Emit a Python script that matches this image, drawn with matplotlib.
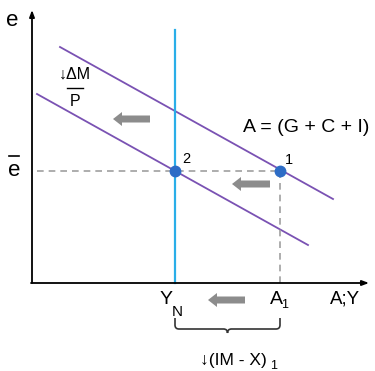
import matplotlib
matplotlib.use("Agg")
import matplotlib.pyplot as plt
from matplotlib.patches import FancyArrow
from matplotlib.path import Path
from matplotlib.patches import PathPatch

plt.rcParams['font.family'] = ['Liberation Sans', 'DejaVu Sans']

# Schematic values (arbitrary units)
YN = 143
A1 = 248
EBAR = 112
upper_x = [28, 301]
upper_y = [236, 84]
lower_x = [5, 276]
lower_y = [189, 38]
blue_top = 253
labels_points = ['1', '2']

purple = '#7a52b3'
cyan = '#2aaee8'
dotc = '#2e6dc6'
gray = '#8c8c8c'

fig = plt.figure(figsize=(3.75, 3.71), dpi=100)
ax = fig.add_axes([0, 0, 1, 1])
ax.set_xlim(-32, 343)
ax.set_ylim(-88, 283)
ax.axis('off')

# axes
ax.annotate('', xy=(0, 273), xytext=(0, 0),
            arrowprops=dict(arrowstyle='-|>,head_length=0.4,head_width=0.15', color='black', lw=1.3, shrinkA=0, shrinkB=0))
ax.annotate('', xy=(337, 0), xytext=(-1, 0),
            arrowprops=dict(arrowstyle='-|>,head_length=0.4,head_width=0.15', color='black', lw=1.3, shrinkA=0, shrinkB=0))

# lines
ax.plot(upper_x, upper_y, color=purple, lw=1.3)
ax.plot(lower_x, lower_y, color=purple, lw=1.3)
ax.plot([YN, YN], [0, blue_top], color=cyan, lw=1.6)

# dashed guides
ax.plot([5, A1], [EBAR, EBAR], color='#a0a0a0', lw=1.2, ls=(0, (4, 3)))
ax.plot([A1, A1], [0, EBAR], color='#a0a0a0', lw=1.2, ls=(0, (4, 3)))

# points
ax.plot([A1, YN], [EBAR, EBAR], 'o', color=dotc, ms=7.5, zorder=5)
ax.text(A1 + 5, EBAR + 4, labels_points[0], fontsize=10.5, va='bottom', ha='left')
ax.text(YN + 7, EBAR + 5, labels_points[1], fontsize=10.5, va='bottom', ha='left')

# gray block arrows
def block_arrow(x_start, x_end, y):
    ax.add_patch(FancyArrow(x_start, y, x_end - x_start, 0, width=7, head_width=14,
                            head_length=9, length_includes_head=True, color=gray, lw=0))

block_arrow(118, 81, 164)
block_arrow(238, 200, 99)
block_arrow(213, 176, -17)

# texts
ax.text(-20, 263, 'e', fontsize=16, ha='center', va='center')
ax.text(-18, 112, 'e', fontsize=16, ha='center', va='center')
ax.plot([-23, -13], [127, 127], color='black', lw=1.2)
ax.text(43, 209, '↓ΔM', fontsize=11.5, ha='center', va='center')
ax.plot([35, 51], [195, 195], color='black', lw=1)
ax.text(43, 182, 'P', fontsize=11.5, ha='center', va='center')
ax.text(274, 155, 'A = (G + C + I)', fontsize=14, ha='center', va='center')
ax.text(134, -17, 'Y', fontsize=14, ha='center', va='center')
ax.text(145.5, -29, 'N', fontsize=11, ha='center', va='center')
ax.text(244, -17, 'A', fontsize=14, ha='center', va='center')
ax.text(253, -22, '1', fontsize=9, ha='center', va='center')
ax.text(313, -16, 'A;Y', fontsize=13.5, ha='center', va='center')
ax.text(235, -77, '↓(IM - X)', fontsize=12.5, ha='right', va='center')
ax.text(238, -83, '1', fontsize=9, ha='left', va='center')

# brace
mid = (YN + A1) / 2
top = -35
bot = -46
r = 4
verts = [(YN, top), (YN, bot + r), (YN, bot), (YN + r, bot),
         (mid - r, bot), (mid, bot), (mid, bot - 4),
         (mid, bot), (mid + r, bot),
         (A1 - r, bot), (A1, bot), (A1, bot + r), (A1, top)]
codes = [Path.MOVETO, Path.LINETO, Path.CURVE3, Path.CURVE3,
         Path.LINETO, Path.CURVE3, Path.CURVE3,
         Path.CURVE3, Path.CURVE3,
         Path.LINETO, Path.CURVE3, Path.CURVE3, Path.LINETO]
ax.add_patch(PathPatch(Path(verts, codes), fill=False, color='#333333', lw=1.2))

fig.savefig('out.png', dpi=100)
